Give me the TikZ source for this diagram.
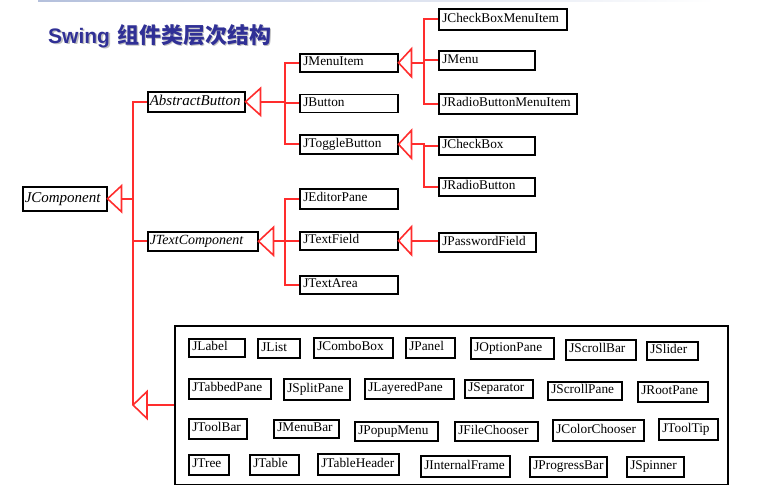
\documentclass[tikz,border=0pt]{standalone}
\usepackage{fontspec}
\setmainfont{Liberation Serif}
\newfontfamily\titlefont{Liberation Sans}
\newfontfamily\cjkfont{Noto Sans CJK SC}
\definecolor{lnred}{RGB}{255,45,45}
\definecolor{ttl}{RGB}{48,48,150}
\definecolor{topln}{RGB}{180,192,220}
\tikzset{
  box/.style={draw=black, line width=1.5pt, fill=white, inner xsep=3.5pt, inner ysep=0pt,
    font=\fontsize{13.3}{15}\selectfont, text height=9.3pt, text depth=3pt},
  ibox/.style={box, inner xsep=2pt, font=\fontsize{15}{17}\selectfont\itshape, text height=10pt},
  conn/.style={draw=lnred, line width=1.6pt},
  tri/.style={draw=lnred, line width=1.6pt, fill=white, line join=miter},
  bigframe/.style={draw=black, line width=1.5pt, inner sep=0pt}
}
\newcommand\bx[7][box]{%
  \pgfmathsetmacro\bxw{#5-#3-7}%
  \pgfmathsetmacro\bxh{#6-#4}%
  \node[#1, minimum height=\bxh pt, anchor=north west] (#2) at (#3,#4) {\makebox[\bxw pt][l]{#7}};}
\newcommand\ibx[7][ibox]{%
  \pgfmathsetmacro\bxw{#5-#3-4}%
  \pgfmathsetmacro\bxh{#6-#4}%
  \node[#1, minimum height=\bxh pt, anchor=north west] (#2) at (#3,#4) {\makebox[\bxw pt][l]{#7}};}
\newcommand\titletext{{\titlefont\bfseries\fontsize{21}{24}\selectfont Swing}\hspace{7pt}{\cjkfont\bfseries\fontsize{22}{24}\selectfont\makebox[154pt][s]{组\hfil 件\hfil 类\hfil 层\hfil 次\hfil 结\hfil 构}}}
\begin{document}
\begin{tikzpicture}[x=1pt,y=-1pt]
\useasboundingbox (0,0) rectangle (758,485);
\shade[left color=topln, right color=white] (38,0) rectangle (715,1.8);
% title with shadow
\node[anchor=base west, inner sep=0pt, text=black!25] (titleshadow) at (49.6,44.6) {\titletext};
\node[anchor=base west, inner sep=0pt, text=ttl] (title) at (48,43) {\titletext};

% left column
\ibx{jc}{22}{186}{106}{210}{JComponent}
\ibx{ab}{147}{91}{244}{111}{AbstractButton}
\ibx[ibox,font=\fontsize{14}{16}\selectfont\itshape]{jtc}{147}{231}{257}{250}{JTextComponent}

% second column
\bx{jmi}{299}{53}{397}{71}{JMenuItem}
\bx{jbt}{299}{93.5}{397}{111.5}{JButton}
\bx{jtb}{299}{134}{397}{153}{JToggleButton}
\bx{jep}{299}{188}{397}{208}{JEditorPane}
\bx{jtf}{299}{231}{397}{249}{JTextField}
\bx{jta}{299}{275}{397}{293}{JTextArea}

% third column
\bx{cbmi}{438}{8}{566}{29}{JCheckBoxMenuItem}
\bx{jmenu}{438}{50}{534}{69}{JMenu}
\bx{rbmi}{438}{93}{576}{113}{JRadioButtonMenuItem}
\bx{cb}{438}{136}{534}{154}{JCheckBox}
\bx{rb}{438}{177}{534}{195}{JRadioButton}
\bx{jpf}{438}{232}{535}{251}{JPasswordField}

% big frame
\node[bigframe, minimum width=553pt, minimum height=158.5pt, anchor=north west] (big) at (174,325) {};
\bx{jlabel}{188}{338}{244}{356}{JLabel}
\bx{jlist}{257}{338}{299}{357}{JList}
\bx{jcombo}{313}{337}{392}{357}{JComboBox}
\bx{jpanel}{405}{337}{454}{357}{JPanel}
\bx{jopt}{470}{337}{553}{358}{JOptionPane}
\bx{jsbar}{565}{339}{635}{359}{JScrollBar}
\bx{jslider}{646}{341}{697}{359}{JSlider}
\bx{jtabbed}{188}{378}{270}{398}{JTabbedPane}
\bx{jsplit}{283}{378}{349}{399}{JSplitPane}
\bx{jlayered}{364}{378}{453}{398}{JLayeredPane}
\bx{jsep}{464}{379}{532}{397}{JSeparator}
\bx{jspane}{547}{381}{621}{399}{JScrollPane}
\bx{jroot}{637}{381}{707}{401}{JRootPane}
\bx{jtool}{188}{418}{246}{438}{JToolBar}
\bx{jmbar}{273}{419}{338}{437}{JMenuBar}
\bx{jpopup}{354}{421}{437}{440}{JPopupMenu}
\bx{jfile}{454}{421}{537}{440}{JFileChooser}
\bx{jcolor}{552}{419}{643}{440}{JColorChooser}
\bx{jtip}{658}{418}{717}{439}{JToolTip}
\bx{jtree}{188}{454}{228}{474}{JTree}
\bx{jtable}{249}{454}{298}{474}{JTable}
\bx{jthead}{317}{453}{398}{474}{JTableHeader}
\bx{jiframe}{420}{455}{509}{476}{JInternalFrame}
\bx{jprog}{529}{456}{606}{476}{JProgressBar}
\bx{jspin}{626}{456}{683}{476}{JSpinner}

% bus coordinates
\coordinate (busA) at (133,0);
\coordinate (busB) at (285,0);
\coordinate (busC) at (424,0);
\coordinate (tipbig) at (big.west -| busA);

% JComponent hierarchy
\draw[conn] ([xshift=14pt]jc.east) -- (jc.east -| busA);
\draw[conn] (ab.west) -- (ab.west -| busA) -- (tipbig);
\draw[conn] (jtc.west -| busA) -- (jtc.west);
\draw[conn] ([xshift=14pt]tipbig) -- (big.west);
\draw[tri] (jc.east) -- ++(14,13) -- ++(0,-26) -- cycle;
\draw[tri] (tipbig) -- ++(14,13.5) -- ++(0,-27) -- cycle;

% AbstractButton
\draw[conn] ([xshift=15pt]ab.east) -- (ab.east -| busB);
\draw[conn] (jmi.west) -- (jmi.west -| busB) -- (jtb.west -| busB) -- (jtb.west);
\draw[conn] (jbt.west -| busB) -- (jbt.west);
\draw[tri] (ab.east) -- ++(15,13.5) -- ++(0,-27) -- cycle;

% JMenuItem
\draw[conn] ([xshift=13pt]jmi.east) -- (jmi.east -| busC);
\draw[conn] (cbmi.west) -- (cbmi.west -| busC) -- (rbmi.west -| busC) -- (rbmi.west);
\draw[conn] (jmenu.west -| busC) -- (jmenu.west);
\draw[tri] (jmi.east) -- ++(13,14) -- ++(0,-28) -- cycle;

% JToggleButton
\draw[conn] ([xshift=13pt]jtb.east) -- (jtb.east -| busC) -- (rb.west -| busC) -- (rb.west);
\draw[conn] (cb.west -| busC) -- (cb.west);
\draw[tri] (jtb.east) -- ++(13,14) -- ++(0,-28) -- cycle;

% JTextComponent
\draw[conn] ([xshift=15pt]jtc.east) -- (jtc.east -| busB);
\draw[conn] (jep.west) -- (jep.west -| busB) -- (jta.west -| busB) -- (jta.west);
\draw[conn] (jtf.west -| busB) -- (jtf.west);
\draw[tri] (jtc.east) -- ++(15,14) -- ++(0,-28) -- cycle;

% JTextField
\draw[conn] ([xshift=13pt]jtf.east) -- (jtf.east -| jpf.west);
\draw[tri] (jtf.east) -- ++(13,14) -- ++(0,-28) -- cycle;
\end{tikzpicture}
\end{document}
